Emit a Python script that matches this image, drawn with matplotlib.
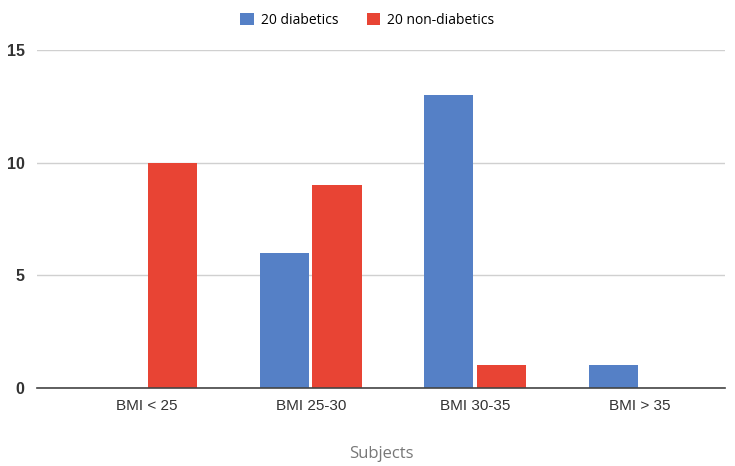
import matplotlib.pyplot as plt
import numpy as np

categories = ["BMI < 25", "BMI 25-30", "BMI 30-35", "BMI > 35"]
diabetics = [0, 6, 13, 1]
non_diabetics = [10, 9, 1, 0]
series_names = ["20 diabetics", "20 non-diabetics"]

blue = "#5580C6"
red = "#E84434"

fig = plt.figure(figsize=(7.35, 4.66), dpi=100)
ax = fig.add_axes([37 / 735, 1 - 388 / 466, (725 - 37) / 735, (388 - 50) / 466])

x = np.arange(len(categories))
w = 0.30
ax.bar(x - 0.16, diabetics, w, color=blue, label=series_names[0], zorder=3)
ax.bar(x + 0.16, non_diabetics, w, color=red, label=series_names[1], zorder=3)

ax.set_xlim(-0.665, 3.52)
ax.set_ylim(0, 15)
ax.set_yticks([0, 5, 10, 15])
ax.set_xticks(x)
ax.set_xticklabels(categories, fontfamily="Liberation Sans", fontsize=11, color="#333333")
for lbl in ax.get_yticklabels():
    lbl.set_fontfamily("Liberation Sans")
    lbl.set_fontsize(11.5)
    lbl.set_fontweight("bold")
    lbl.set_color("#333333")
ax.tick_params(axis="x", length=0, pad=8)
ax.tick_params(axis="y", length=0, pad=9)

ax.grid(axis="y", color="#D0D0D0", linewidth=1, zorder=0)
for side in ["top", "right", "left"]:
    ax.spines[side].set_visible(False)
ax.spines["bottom"].set_color("#444444")
ax.spines["bottom"].set_linewidth(1.2)
ax.spines["bottom"].set_zorder(4)

ax.set_xlabel("Subjects", fontfamily="Open Sans", fontsize=12, color="#777777", labelpad=24)

fig.legend(loc="upper center", bbox_to_anchor=(0.5, 1.0), ncol=2, frameon=False,
           handlelength=1.0, handleheight=1.0, columnspacing=2.0, handletextpad=0.5,
           prop={"family": "Open Sans", "size": 10})

fig.savefig("out.png", dpi=100)
